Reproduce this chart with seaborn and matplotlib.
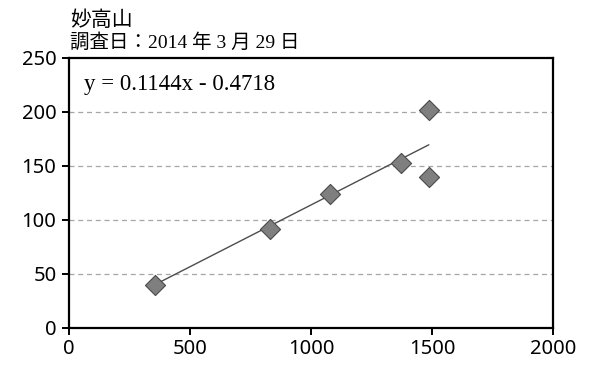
import numpy as np
import pandas as pd
import matplotlib
matplotlib.use("Agg")
import matplotlib.pyplot as plt
import seaborn as sns

# Survey readings
elevation = [355, 830, 1080, 1373, 1487, 1487]
values = [40, 92, 124, 153, 202, 140]

# Linear trend coefficients
slope = 0.1144
intercept = -0.4718

title = "妙高山"
subtitle = "調査日：2014 年 3 月 29 日"
x_ticks = [0, 500, 1000, 1500, 2000]
y_ticks = [0, 50, 100, 150, 200, 250]

sns.set_theme(style="white")
plt.rcParams["font.family"] = ["Noto Sans", "DejaVu Sans"]

fig = plt.figure(figsize=(5.92, 3.65), dpi=100)
ax = fig.add_axes([0.1166, 0.1014, 0.9341 - 0.1166, 0.8411 - 0.1014])

df = pd.DataFrame({"x": elevation, "y": values})
trend_x = np.array([min(elevation), max(elevation)])
trend = pd.DataFrame({"x": trend_x, "y": slope * trend_x + intercept})

for yv in y_ticks[1:-1]:
    ax.axhline(yv, color="#a6a6a6", lw=0.9, ls=(0, (4, 3)), zorder=0)

sns.lineplot(data=trend, x="x", y="y", ax=ax, color="#4d4d4d", lw=1.0, zorder=2)
sns.scatterplot(data=df, x="x", y="y", ax=ax, marker="D", s=105,
                color="#7f7f7f", edgecolor="#4a4a4a", linewidth=0.8, zorder=3)

ax.set_xlim(0, 2000)
ax.set_ylim(0, 250)
ax.set_xticks(x_ticks)
ax.set_yticks(y_ticks)
ax.set_xlabel("")
ax.set_ylabel("")
for s in ax.spines.values():
    s.set_color("black")
    s.set_linewidth(1.6)
ax.tick_params(axis="both", direction="out", length=5, width=1.4, color="black",
               labelsize=14.5, labelcolor="black", bottom=True, left=True,
               top=False, right=False)
ax.tick_params(axis="x", pad=3)
ax.tick_params(axis="y", pad=4)

ax.text(0.03, 0.94, f"y = {slope}x - {abs(intercept)}", transform=ax.transAxes,
        ha="left", va="top", fontsize=16.5, family=["Liberation Serif"], color="black")

fig.text(70 / 592, 1 - 9 / 365, title, ha="left", va="top", fontsize=15,
         family=["Noto Sans CJK JP"], color="black")
fig.text(70 / 592, 1 - 33 / 365, subtitle, ha="left", va="top", fontsize=14,
         family=["Liberation Serif", "Noto Sans CJK JP"], color="black")

fig.savefig("out.png", dpi=100)
